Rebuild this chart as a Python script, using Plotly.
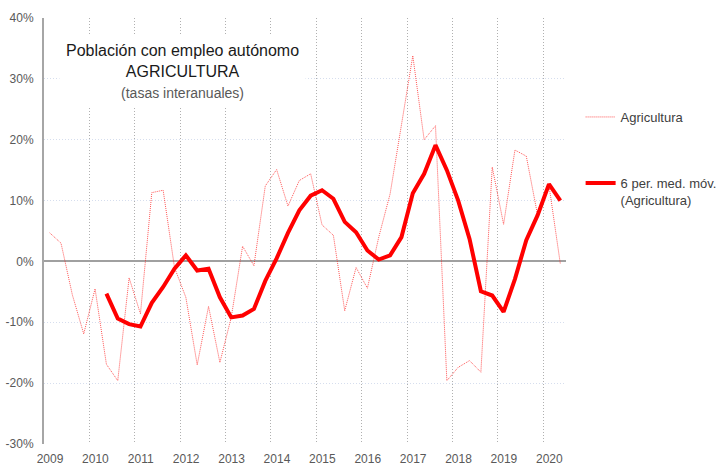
import plotly.graph_objects as go

# ---- data ----
years = [str(y) for y in range(2009, 2021)]
quarters = [f"{y}T{q}" for y in range(2009, 2021) for q in range(1, 5)][:46]

agricultura = [4.7, 3.0, -5.5, -11.9, -4.5, -16.9, -19.6, -2.7, -8.6, 11.3,
               11.7, -1.0, -5.9, -17.0, -7.4, -16.6, -9.2, 2.5, -0.7, 12.4,
               15.1, 9.1, 13.3, 14.4, 6.0, 4.3, -8.1, -1.0, -4.4, 4.0,
               11.1, 22.1, 33.8, 20.0, 22.3, -19.6, -17.4, -16.3, -18.2, 15.5,
               6.1, 18.3, 17.3, 7.6, 12.5, -0.4]

media_movil = [None, None, None, None, None, -5.3, -9.4, -10.3, -10.7, -6.8,
               -4.2, -1.2, 1.0, -1.5, -1.2, -5.9, -9.2, -8.9, -7.8, -3.2,
               0.5, 4.7, 8.4, 10.8, 11.7, 10.3, 6.5, 4.8, 1.8, 0.3,
               1.0, 4.0, 11.2, 14.4, 19.1, 15.0, 10.0, 3.7, -4.9, -5.6,
               -8.3, -2.9, 3.5, 7.6, 12.7, 10.0]

y_ticks = [-30, -20, -10, 0, 10, 20, 30, 40]

x_idx = list(range(len(quarters)))
FONT = "Liberation Sans"
GRAY = "#595959"

fig = go.Figure()
fig.add_trace(go.Scatter(
    x=x_idx, y=agricultura, mode="lines", name="Agricultura",
    line=dict(color="rgba(255,30,30,0.75)", width=1, dash="1px,1px"),
    text=quarters, legend="legend", showlegend=True))
fig.add_trace(go.Scatter(
    x=x_idx, y=media_movil, mode="lines",
    name="6 per. med. móv.<br>(Agricultura)",
    line=dict(color="#FF0000", width=4), connectgaps=False,
    text=quarters, legend="legend2", showlegend=True))

fig.update_layout(
    width=724, height=465,
    margin=dict(l=44, r=158, t=18, b=21, autoexpand=False),
    paper_bgcolor="white", plot_bgcolor="white",
    font=dict(family=FONT, size=12, color=GRAY),
    showlegend=True,
    legend=dict(x=1.028, y=(444 - 117) / 426, xanchor="left", yanchor="middle",
                font=dict(family=FONT, size=13, color="#404040"),
                bgcolor="rgba(0,0,0,0)", itemwidth=30, visible=True),
    legend2=dict(x=1.028, y=(444 - 168) / 426, xanchor="left", yanchor="top",
                 valign="top",
                 font=dict(family=FONT, size=13, color="#404040"),
                 bgcolor="rgba(0,0,0,0)", itemwidth=30, visible=True),
)

fig.update_xaxes(
    range=[-0.5, len(quarters) - 0.5],
    tickmode="array",
    tickvals=[i * 4 - 0.5 for i in range(len(years))],
    ticktext=years,
    ticklabelshift=6, ticklabelstandoff=6,
    showgrid=True, gridcolor="#B0B0B0", griddash="1px,2px", gridwidth=1,
    showline=False, zeroline=False, ticks="",
    tickfont=dict(family=FONT, size=12, color=GRAY),
    automargin=False,
)
fig.update_yaxes(
    range=[-30, 40],
    tickmode="array", tickvals=y_ticks,
    ticktext=[f"{v}%" for v in y_ticks],
    showgrid=True, gridcolor="#D6DEEE", griddash="1px,2px", gridwidth=1,
    zeroline=True, zerolinecolor="#A0A0A0", zerolinewidth=2,
    showline=True, linecolor="#A6A6A6", linewidth=2,
    ticks="", ticklabelstandoff=6,
    tickfont=dict(family=FONT, size=12, color=GRAY),
    automargin=False,
)

fig.add_annotation(
    xref="paper", yref="paper", x=(182 - 44) / 522, y=(444 - 71) / 426,
    xanchor="center", yanchor="middle", showarrow=False,
    text=("<span style='font-size:16px;color:#1a1a1a'>Población con empleo autónomo</span><br>"
          "<span style='font-size:16px;color:#1a1a1a'>AGRICULTURA</span><br>"
          "<span style='font-size:14px;color:#595959'>(tasas interanuales)</span>"),
    font=dict(family=FONT, size=16),
    bgcolor="white", borderpad=6, align="center",
)

fig.write_html(
    "out.html",
    config={"displayModeBar": False},
    post_script="document.body.style.margin='0';document.body.style.padding='0';",
)
